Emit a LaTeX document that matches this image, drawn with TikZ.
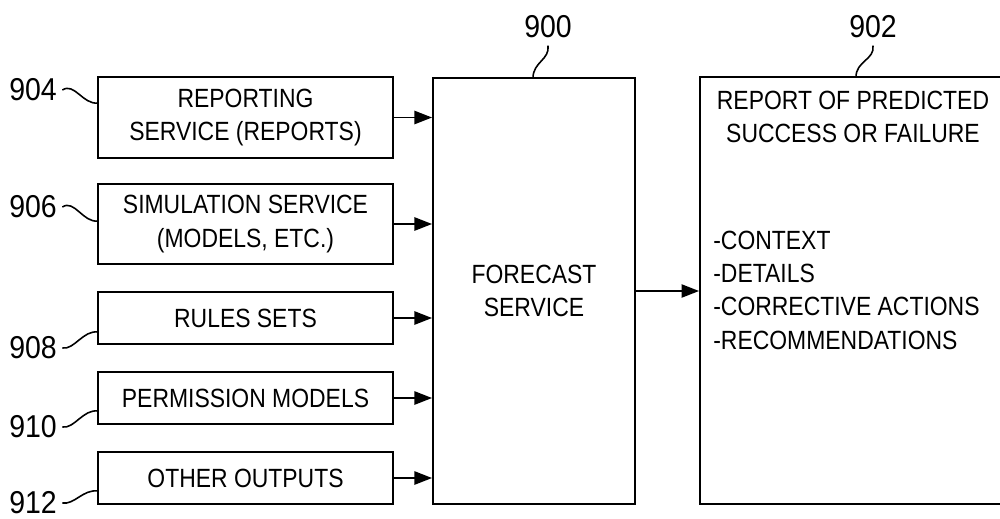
\documentclass[tikz,border=0pt]{standalone}
\usepackage{fontspec}
\setmainfont{Liberation Sans}[FakeStretch=0.87]
\newfontfamily\numfont{Liberation Sans}[FakeStretch=0.9]
\usetikzlibrary{arrows.meta}
\begin{document}
\begin{tikzpicture}[x=0.02cm,y=-0.02cm,
  box/.style={draw, line width=1.1pt, inner sep=0pt, align=center, font=\fontsize{15}{19}\selectfont},
  txt/.style={inner sep=0pt, font=\fontsize{15}{19}\selectfont},
  num/.style={font=\numfont\fontsize{18}{20}\selectfont, inner sep=0pt},
  arr/.style={line width=1.1pt, -{Triangle[length=10pt,width=7.5pt]}},
  sq/.style={line width=0.9pt}]
\clip (0,0) rectangle (1000,518);
% input boxes
\node[box, minimum width=5.9cm, minimum height=1.62cm] (b904) at (245.5,117.5) {REPORTING\\SERVICE (REPORTS)};
\node[box, minimum width=5.9cm, minimum height=1.6cm] (b906) at (245.5,224) {SIMULATION SERVICE\\(MODELS, ETC.)};
\node[box, minimum width=5.9cm, minimum height=1.04cm] (b908) at (245.5,318) {RULES SETS};
\node[box, minimum width=5.9cm, minimum height=1.04cm] (b910) at (245.5,398) {PERMISSION MODELS};
\node[box, minimum width=5.9cm, minimum height=1.04cm] (b912) at (245.5,478) {OTHER OUTPUTS};
% forecast
\node[box, minimum width=4.04cm, minimum height=8.52cm] (fc) at (534,291) {FORECAST\\SERVICE};
% report
\node[draw, line width=1.1pt, inner sep=0pt, minimum width=6.12cm, minimum height=8.54cm] (rep) at (853,290.5) {};
\node[txt, align=center] (rephead) at (853,117) {REPORT OF PREDICTED\\SUCCESS OR FAILURE};
\node[txt, align=left, anchor=west] (replist) at (713,290) {-CONTEXT\\-DETAILS\\-CORRECTIVE ACTIONS\\-RECOMMENDATIONS};
% arrows
\foreach \b in {b904,b906,b908,b910,b912}
  \draw[arr] (\b.east) -- (\b.east -| fc.west);
\draw[arr] (fc.east) -- (fc.east -| rep.west);
% reference numerals
\node[num] (l904) at (33,90) {904};
\node[num] (l906) at (33,207) {906};
\node[num] (l908) at (33,348) {908};
\node[num] (l910) at (33,427) {910};
\node[num] (l912) at (33,503) {912};
\node[num] (l900) at (548,27) {900};
\node[num] (l902) at (873,27) {902};
\coordinate (c904) at (98,103);
\coordinate (c906) at (98,221);
\coordinate (c908) at (98,332);
\coordinate (c910) at (98,411);
\coordinate (c912) at (98,491);
\coordinate (c900) at (533,78);
\coordinate (c902) at (856,77);
\draw[sq] ([xshift=3pt]l904.east) .. controls +(12,-8) and +(-15,2) .. (c904);
\draw[sq] ([xshift=3pt]l906.east) .. controls +(12,-8) and +(-15,2) .. (c906);
\draw[sq] ([xshift=3pt]l908.east) .. controls +(12,2) and +(-15,-2) .. (c908);
\draw[sq] ([xshift=3pt]l910.east) .. controls +(12,2) and +(-15,-2) .. (c910);
\draw[sq] ([xshift=3pt]l912.east) .. controls +(12,2) and +(-15,-2) .. (c912);
\draw[sq] ([yshift=-4pt]l900.south) .. controls +(2,14) and +(0,-16) .. (c900);
\draw[sq] ([yshift=-4pt]l902.south) .. controls +(2,14) and +(0,-16) .. (c902);
\end{tikzpicture}
\end{document}
